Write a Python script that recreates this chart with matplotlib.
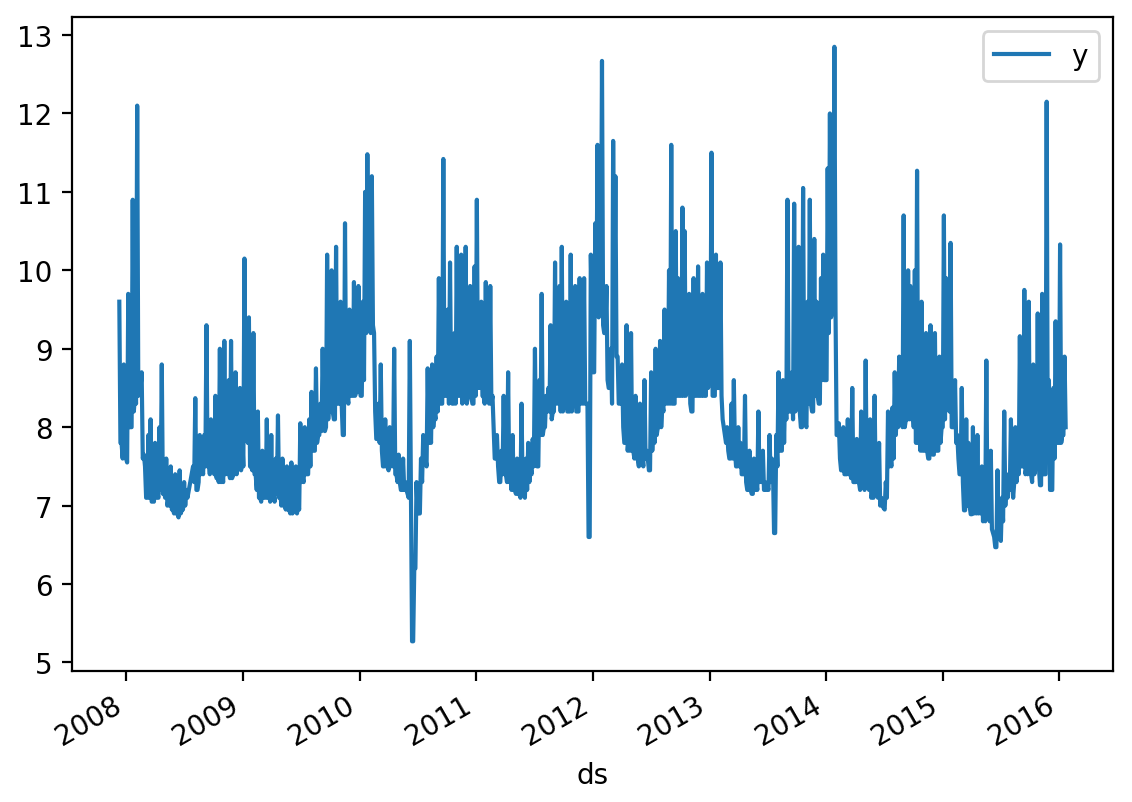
import matplotlib
matplotlib.use("Agg")
import matplotlib.pyplot as plt
import matplotlib.dates as mdates
import pandas as pd

# weekly readings of y (log page views), first week starts 2007-12-10
# y_* = the spiky reading at the start of each week,
# lo_* = the floor of the band half-way through the same week
# None = no data that week (line just joins across)
start_date = "2007-12-10"

y_2008 = [9.6, 7.8, 8.8, 7.6, 9.7, 8.0, 10.9, 8.4, 12.1, 8.5,
          8.7, 7.65, 7.1, 7.9, 8.1, 7.1, 7.8, 7.15, 8.0, 8.8,
          7.2, 7.6, 7.07, 7.5, 6.95, 7.4, 6.9, 7.45, 6.95, 7.3,
          7.2, None, None, 7.5, 8.37, 7.2, 7.9, 7.5, 7.9, 9.3,
          7.6, 8.1, 7.6, 8.4, 7.4, 9.0, 7.35, 9.1, 7.5, 8.6,
          9.1, 7.45]
lo_2008 = [7.8, 7.6, 7.9, 7.55, 8.0, 8.0, 8.2, 8.3, 8.4, 8.5,
           7.6, 7.5, 7.1, 7.1, 7.05, 7.05, 7.1, 7.1, 7.2, 7.15,
           7.1, 7.0, 7.0, 6.95, 6.9, 6.9, 6.85, 6.9, 6.95, 7.0,
           7.1, None, None, 7.3, 7.2, 7.3, 7.4, 7.4, 7.5, 7.5,
           7.4, 7.5, 7.4, 7.35, 7.3, 7.3, 7.3, 7.4, 7.4, 7.35,
           7.35, 7.4]

y_2009 = [8.7, 7.5, 8.5, 7.9, 10.15, 8.3, 9.4, 7.5,
          9.2, 7.4, 8.2, 7.1, 7.7, 7.15, 8.1, 7.2, 7.9, 7.15,
          7.6, 8.15, 7.2, 7.6, 7.0, 7.5, 6.95, 7.55, 6.95, 7.5,
          7.0, 8.05, 7.35, 8.0, 7.4, 8.1, 8.45, 7.7, 8.75, 7.9,
          8.3, 9.0, 7.95, 10.2, 8.5, 10.0, 8.1, 10.3, 8.3, 9.6,
          7.9, 10.6, 8.4, 9.5]
lo_2009 = [7.4, 7.5, 7.45, 7.5, 7.9, 7.8, 7.5, 7.45,
           7.4, 7.2, 7.1, 7.05, 7.1, 7.1, 7.1, 7.05, 7.1, 7.05,
           7.15, 7.1, 7.0, 7.0, 6.95, 6.95, 6.9, 6.9, 6.95, 6.9,
           6.95, 7.3, 7.3, 7.4, 7.4, 7.5, 7.7, 7.7, 7.8, 7.9,
           7.95, 8.1, 8.0, 8.1, 8.2, 8.2, 8.1, 8.3, 8.3, 8.3,
           7.9, 8.4, 8.3, 8.4]

y_2010 = [8.4, 9.85, 8.45, 9.8, 8.4, 9.6,
          11.0, 11.48, 9.3, 11.2, 9.2, 7.85, 8.3, 8.8, 7.5, 8.1,
          7.5, 8.0, 7.6, 9.0, 7.4, 7.65, 7.2, 7.6, 7.3, 7.15,
          9.1, 5.27, 6.2, 7.3, 6.9, 7.6, 7.9, 7.6, 8.75, 8.1,
          8.8, 8.2, 8.9, 9.9, 8.3, 11.42, 8.6, 9.5, 10.1, 8.3,
          9.2, 10.3, 8.4, 10.2, 8.5, 10.3]
lo_2010 = [8.4, 8.4, 8.45, 8.5, 8.4, 8.6,
           9.2, 9.3, 9.2, 9.3, 8.2, 7.85, 7.8, 7.7, 7.5, 7.5,
           7.45, 7.5, 7.5, 7.4, 7.3, 7.3, 7.2, 7.2, 7.2, 7.1,
           7.1, 5.27, 6.2, 6.9, 6.9, 7.3, 7.6, 7.5, 7.8, 7.8,
           8.0, 8.1, 8.2, 8.3, 8.3, 8.4, 8.4, 8.3, 8.4, 8.3,
           8.3, 8.4, 8.4, 8.3, 8.4, 8.3]

y_2011 = [8.4, 9.8, 8.3, 10.05,
          10.9, 8.6, 9.6, 8.4, 9.85, 8.5, 9.8, 8.4, 7.6, 7.9,
          7.3, 7.7, 8.4, 7.4, 8.7, 7.6, 7.9, 7.2, 7.6, 7.15,
          8.3, 7.25, 7.6, 7.8, 7.5, 7.85, 9.0, 7.5, 8.6, 9.7,
          8.0, 8.4, 8.5, 9.3, 8.2, 10.1, 8.5, 9.8, 10.3, 8.3,
          9.6, 8.2, 10.2, 8.4, 9.8, 8.2, 9.9, 8.5]
lo_2011 = [8.4, 8.4, 8.3, 8.4,
           8.5, 8.5, 8.4, 8.3, 8.4, 8.3, 8.3, 8.0, 7.6, 7.5,
           7.3, 7.4, 7.4, 7.3, 7.3, 7.2, 7.2, 7.15, 7.15, 7.1,
           7.15, 7.1, 7.2, 7.3, 7.4, 7.5, 7.6, 7.5, 7.9, 7.9,
           8.0, 8.2, 8.2, 8.1, 8.2, 8.3, 8.3, 8.2, 8.2, 8.3,
           8.2, 8.2, 8.2, 8.3, 8.2, 8.2, 8.3, 8.3]

y_2012 = [9.9, 8.3,
          6.6, 10.2, 8.7, 10.6, 11.6, 9.6, 12.67, 9.2, 9.8, 8.5,
          9.0, 11.65, 11.2, 8.9, 8.3, 8.8, 7.8, 9.3, 7.9, 9.2,
          7.7, 8.4, 7.6, 8.3, 7.65, 8.6, 7.7, 7.45, 8.7, 8.1,
          9.0, 8.0, 9.1, 8.3, 9.5, 8.4, 10.0, 11.6, 8.3, 10.5,
          9.9, 8.4, 10.8, 10.5, 8.5, 9.7, 8.2, 9.9, 8.5, 10.05]
lo_2012 = [8.3, 8.3,
           6.6, 9.4, 8.7, 9.5, 9.4, 9.6, 9.3, 9.2, 8.6, 8.5,
           8.3, 9.4, 8.9, 8.3, 8.3, 8.0, 7.8, 7.7, 7.7, 7.7,
           7.6, 7.6, 7.5, 7.6, 7.5, 7.6, 7.6, 7.45, 7.7, 7.8,
           7.9, 8.0, 8.0, 8.2, 8.3, 8.3, 8.3, 8.3, 8.3, 8.4,
           8.4, 8.4, 8.4, 8.4, 8.5, 8.3, 8.2, 8.4, 8.4, 8.4]

y_2013 = [8.4, 9.7, 8.4, 10.1, 9.1, 11.5, 8.4, 10.2, 8.5, 10.1,
          8.1, 7.9, 8.0, 7.6, 8.3, 8.6, 7.5, 8.0, 7.8, 7.4,
          8.4, 7.2, 7.7, 7.15, 7.6, 7.3, 8.2, 7.4, 7.7, 7.3,
          7.25, 7.9, 7.6, 6.65, 7.9, 8.7, 7.7, 8.6, 8.5, 10.9,
          8.2, 8.7, 10.85, 8.4, 10.3, 8.0, 11.05, 8.05, 9.6, 10.9,
          8.2, 10.4]
lo_2013 = [8.4, 8.4, 8.4, 8.5, 8.6, 8.4, 8.4, 8.5, 8.5, 8.4,
           8.0, 7.8, 7.7, 7.6, 7.6, 7.7, 7.5, 7.5, 7.4, 7.4,
           7.3, 7.2, 7.2, 7.15, 7.2, 7.2, 7.3, 7.3, 7.2, 7.2,
           7.2, 7.3, 7.5, 6.65, 7.5, 7.7, 7.7, 7.8, 8.1, 8.2,
           8.2, 8.1, 8.2, 8.3, 8.2, 8.0, 8.3, 8.0, 8.3, 8.3,
           8.2, 8.4]

y_2014 = [9.6, 8.3, 9.9, 10.2, 8.6, 11.3, 12.0, 9.5,
          12.85, 7.9, 8.05, 7.45, 8.0, 7.4, 8.1, 7.45, 8.5, 7.3,
          7.85, 7.3, 8.2, 7.45, 8.85, 7.35, 8.1, 7.15, 8.4, 7.2,
          7.8, 7.1, 6.97, 7.3, 8.2, 7.7, 8.25, 8.7, 8.3, 8.9,
          8.2, 10.7, 8.1, 10.0, 9.8, 8.3, 10.0, 11.27, 8.1, 9.6,
          7.7, 9.2, 7.6, 9.3]
lo_2014 = [8.4, 8.3, 8.6, 8.6, 8.6, 9.2, 9.4, 9.5,
           9.5, 7.9, 7.6, 7.45, 7.4, 7.4, 7.4, 7.35, 7.3, 7.3,
           7.3, 7.2, 7.3, 7.2, 7.3, 7.2, 7.1, 7.1, 7.2, 7.1,
           7.0, 7.0, 6.95, 7.1, 7.5, 7.5, 7.6, 7.9, 8.0, 8.1,
           8.0, 8.0, 8.1, 8.1, 8.1, 8.0, 7.8, 7.8, 7.7, 7.7,
           7.7, 7.7, 7.6, 7.7]

y_2015 = [7.65, 9.2, 7.7, 8.9, 8.0, 10.7,
          9.9, 8.3, 10.35, 8.0, 8.6, 7.9, 7.4, 8.5, 6.94, 8.1,
          7.8, 6.89, 8.0, 7.1, 7.9, 7.0, 7.5, 6.95, 8.85, 7.05,
          7.7, 6.65, 6.47, 7.45, 6.6, 7.1, 8.2, 7.4, 7.35, 8.1,
          7.1, 8.0, 7.6, 9.16, 7.5, 9.75, 7.5, 9.6, 7.4, 8.8,
          7.6, 9.45, 7.26, 9.7, 7.4, 12.15, 8.6, 7.2]
lo_2015 = [7.65, 7.7, 7.7, 7.8, 8.0, 8.1,
           8.3, 8.2, 8.0, 8.0, 7.8, 7.6, 7.4, 7.3, 6.94, 7.0,
           7.0, 6.89, 6.9, 6.9, 6.9, 6.9, 6.8, 6.8, 6.9, 6.8,
           6.7, 6.6, 6.47, 6.6, 6.55, 6.8, 7.0, 7.1, 7.2, 7.3,
           7.3, 7.3, 7.4, 7.5, 7.5, 7.4, 7.4, 7.5, 7.3, 7.4,
           7.6, 7.5, 7.26, 7.4, 7.4, 7.6, 7.2, 7.2]

y_2016 = [8.5, 9.35, 7.8, 10.33, 7.9, 8.9]
lo_2016 = [7.6, 7.8, 7.8, 7.8, 7.9, 8.0]

y = y_2008 + y_2009 + y_2010 + y_2011 + y_2012 + y_2013 + y_2014 + y_2015 + y_2016
lo = lo_2008 + lo_2009 + lo_2010 + lo_2011 + lo_2012 + lo_2013 + lo_2014 + lo_2015 + lo_2016

weeks = pd.date_range(start_date, periods=len(y), freq="7D")
hi_part = pd.DataFrame({"ds": weeks, "y": y})
lo_part = pd.DataFrame({"ds": weeks + pd.Timedelta(hours=84), "y": lo})
df = pd.concat([hi_part, lo_part]).dropna().sort_values("ds")

fig = plt.figure(figsize=(5.66, 4.015), dpi=200)
ax = fig.add_subplot(111)
ax.plot(df["ds"], df["y"], label="y")
ax.xaxis.set_major_locator(mdates.YearLocator())
ax.xaxis.set_major_formatter(mdates.DateFormatter("%Y"))
ax.set_xlabel("ds")
ax.legend(loc="upper right")
fig.autofmt_xdate()
ax.set_position([0.0636, 0.1631, 0.9196, 0.8144])

fig.savefig("out.png", dpi=200)
